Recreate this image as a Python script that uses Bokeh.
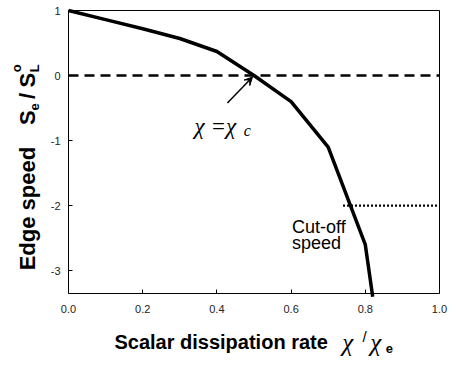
import math
from bokeh.plotting import figure
from bokeh.models import Range1d, Label, Arrow, VeeHead, FixedTicker, LinearAxis
from bokeh.embed import file_html
from bokeh.resources import INLINE

# data
chi_ratio = [0.0, 0.1, 0.2, 0.3, 0.4, 0.5, 0.6, 0.7, 0.8, 0.82]
edge_speed = [1.0, 0.86, 0.72, 0.57, 0.37, 0.0, -0.4, -1.1, -2.6, -3.4]
zero_x = [0.0, 1.0]
zero_y = [0.0, 0.0]
cutoff_x = [0.74, 1.0]
cutoff_y = [-2.0, -2.0]
x_ticks = [0.0, 0.2, 0.4, 0.6, 0.8, 1.0]
y_ticks = [-3, -2, -1, 0, 1]
X0, X1 = 0.0, 1.0
Y0, Y1 = -3.35, 1.0

W, H = 448, 356
SX, SY = 448 / 464.0, 356 / 372.0
FL, FR, FT, FB = 68, 439, 10, 293  # data box in figure px
KX = (FR - FL) / (X1 - X0)
KY = (FB - FT) / (Y1 - Y0)

p = figure(width=W, height=H, output_backend="svg", toolbar_location=None,
           x_range=Range1d(X0 - FL / KX, X1 + (W - FR) / KX),
           y_range=Range1d(Y0 - (H - FB) / KY, Y1 + FT / KY),
           min_border=0, x_axis_location=None, y_axis_location=None)
p.background_fill_color = "white"
p.border_fill_color = "white"
p.grid.visible = False
p.outline_line_color = None

def make_axis(loc, fixed, bounds, ticks, labels):
    ax = LinearAxis(fixed_location=fixed, bounds=bounds, ticker=FixedTicker(ticks=ticks))
    ax.axis_line_color = "black"
    ax.axis_line_width = 1
    ax.major_tick_in = 4
    ax.major_tick_out = 0
    ax.minor_tick_line_color = None
    ax.major_label_text_font = "Liberation Sans"
    ax.major_label_text_font_size = "11px"
    ax.major_label_text_color = "#222222"
    if labels is None:
        ax.major_tick_line_color = None
        ax.major_label_text_color = None
    else:
        ax.major_label_overrides = labels
    p.add_layout(ax, loc)
    return ax

xa = make_axis("below", Y0, (X0, X1), x_ticks, {t: f"{t:.1f}" for t in x_ticks})
xa.major_label_standoff = 11
ya = make_axis("left", X0, (Y0, Y1), y_ticks, {t: str(t) for t in y_ticks})
ya.major_label_standoff = 8
make_axis("above", Y1, (X0, X1), x_ticks, None)
make_axis("right", X1, (Y0, Y1), y_ticks, None)

p.line(zero_x, zero_y, line_color="black", line_width=2.5, line_dash="10 6")
p.line(cutoff_x, cutoff_y, line_color="black", line_width=2.2, line_dash="2 2")
p.line(chi_ratio, edge_speed, line_color="black", line_width=3.5)

def dx(x):
    return X0 + (x * SX - FL) / KX

def dy(y):
    return Y1 - (y * SY - FT) / KY

def style_of(bold, italic):
    if bold and italic:
        return "bold italic"
    if bold:
        return "bold"
    if italic:
        return "italic"
    return "normal"

def lab(text, x, y, size, bold=False, italic=False, font="Liberation Sans", angle=0.0):
    """text at a reference-pixel position (baseline start)"""
    p.add_layout(Label(x=dx(x), y=dy(y), text=text, text_font=font, text_font_size=size,
                       text_font_style=style_of(bold, italic), angle=angle,
                       text_align="left", text_baseline="alphabetic", text_color="black"))

# arrow + annotation
p.add_layout(Arrow(x_start=dx(235), y_start=dy(107), x_end=dx(261), y_end=dy(80),
                   line_color="black", line_width=1.5,
                   end=VeeHead(size=8, fill_color="black", line_color="black")))
lab("χ =χ", 201, 132, "23px", italic=True, font="Liberation Serif")
lab("c", 252, 136, "16px", italic=True, font="Liberation Serif")

lab("Cut-off", 302, 237, "18px")
lab("speed", 302, 253, "18px")

# x axis title
lab("Scalar dissipation rate", 118, 357, "20px", bold=True)
lab("χ", 354, 357, "25px", italic=True, font="Liberation Serif")
lab("/", 375, 351, "15px")
lab("χ", 383, 357, "25px", italic=True, font="Liberation Serif")
lab("e", 399, 364, "13px", bold=True)

# y axis title (rotated)
a = math.pi / 2
lab("Edge speed", 28, 282, "22px", bold=True, angle=a)
lab("S", 28, 130, "22px", bold=True, angle=a)
lab("e", 35, 115, "13px", bold=True, angle=a)
lab("/", 28, 103, "22px", bold=True, angle=a)
lab("S", 28, 91, "22px", bold=True, angle=a)
lab("L", 35, 75, "13px", bold=True, angle=a)
lab("o", 17, 75, "13px", bold=True, angle=a)

open("out.html", "w").write(file_html(p, INLINE))
